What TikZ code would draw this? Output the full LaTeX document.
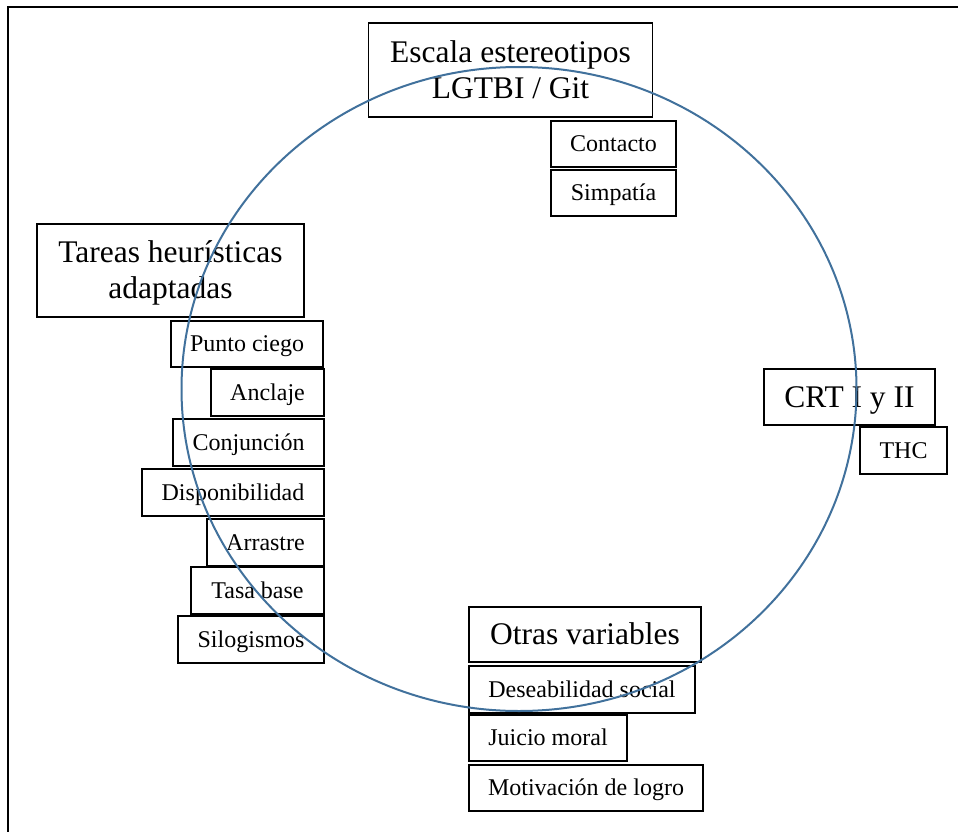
\documentclass[tikz,border=0pt]{standalone}
\usepackage{fontspec}
\setmainfont{Liberation Serif}
\begin{document}
\begin{tikzpicture}[x=1pt,y=-1pt,
  box/.style={draw=black, line width=1.5pt, inner sep=0pt, rectangle},
  small/.style={box, font=\fontsize{24}{28}\selectfont, text height=15.8pt, text depth=0pt},
  big/.style={box, font=\fontsize{31.5}{36}\selectfont, text height=20.7pt, text depth=0pt},
  bigtwo/.style={box, font=\fontsize{31.5}{36}\selectfont, text height=20.7pt, text depth=36pt},
  ring/.style={draw={rgb,255:red,65;green,113;blue,156}, line width=2pt},
  frame/.style={draw=black, line width=2pt}]
\useasboundingbox (0,0) rectangle (958,832);
\newcommand{\twolines}[2]{\begin{tabular}[t]{@{}c@{}}#1\\#2\end{tabular}}

% outer frame
\coordinate (fbl) at (8,833);
\coordinate (ftl) at (8,7);
\coordinate (ftr) at (959,7);
\draw[frame] (fbl) -- (ftl) -- (ftr);

% scale of stereotypes
\node[bigtwo, minimum width=284pt, minimum height=94pt] (esc) at (510.5,70) {\twolines{Escala estereotipos}{LGTBI / Git}};
\node[small, minimum width=125pt, minimum height=46pt] (cont) at (613.5,144) {Contacto};
\node[small, minimum width=125pt, minimum height=46pt] (simp) at (613.5,193) {Simpatía};

% heuristic tasks
\node[bigtwo, minimum width=267pt, minimum height=93pt] (tar) at (170.5,270.5) {\twolines{Tareas heurísticas}{adaptadas}};
\node[small, minimum width=152pt, minimum height=46pt] (pc) at (247,344) {Punto ciego};
\node[small, minimum width=113pt, minimum height=47pt] (anc) at (267.5,392.5) {Anclaje};
\node[small, minimum width=151pt, minimum height=47pt] (conj) at (248.5,442.5) {Conjunción};
\node[small, minimum width=182pt, minimum height=47pt] (disp) at (233,492.5) {Disponibilidad};
\node[small, minimum width=117pt, minimum height=47pt] (arr) at (265.5,542.5) {Arrastre};
\node[small, minimum width=133pt, minimum height=47pt] (tasa) at (257.5,590.5) {Tasa base};
\node[small, minimum width=146pt, minimum height=47pt] (silo) at (251,639.5) {Silogismos};

% CRT
\node[big, minimum width=171pt, minimum height=56pt] (crt) at (849.5,397) {CRT I y II};
\node[small, minimum width=87pt, minimum height=47pt] (thc) at (903.5,450.5) {THC};

% other variables
\node[big, minimum width=232pt, minimum height=55pt] (otras) at (585,634.5) {Otras variables};
\node[small, minimum width=226pt, minimum height=47pt] (des) at (582,689.5) {Deseabilidad social};
\node[small, minimum width=158pt, minimum height=46pt] (jui) at (548,738) {Juicio moral};
\node[small, minimum width=234pt, minimum height=46pt] (mot) at (586,788) {Motivación de logro};

% enclosing ring
\coordinate (ringc) at (519,389);
\draw[ring] (ringc) ellipse [x radius=337.5, y radius=322];
\end{tikzpicture}
\end{document}
